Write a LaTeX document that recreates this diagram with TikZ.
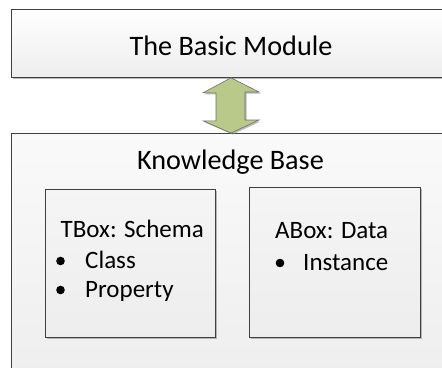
\documentclass[tikz,border=0pt]{standalone}
\usepackage{fontspec}
\setmainfont{Carlito}
\usepackage{tikz}
\usetikzlibrary{positioning, shadows}
\definecolor{boxline}{RGB}{64,64,64}
\definecolor{arrowgreen}{RGB}{184,201,138}
\definecolor{arrowline}{RGB}{110,110,110}
\tikzset{>=latex}

\begin{document}
\begin{tikzpicture}[x=1pt, y=-1pt,
    panel/.style={draw=boxline, line width=0.8pt, inner sep=0pt, anchor=north west, top color=white, bottom color=black!7,
      drop shadow={shadow xshift=1.5pt, shadow yshift=-1.5pt, fill=black!45, opacity=0.6}},
    heading/.style={font=\fontsize{28.2}{32}\selectfont, anchor=base, inner sep=0pt},
    entry/.style={font=\fontsize{25}{28}\selectfont, anchor=base west, inner sep=0pt},
    dot/.style={fill=black}]
  \useasboundingbox (0,0) rectangle (442,367);
  \clip (0,0) rectangle (442,367);
  \fill[white] (0,0) rectangle (442,367);
  % boxes
  \node[panel, minimum width=460pt, minimum height=68pt] (basic) at (11,9) {};
  \node[panel, minimum width=460pt, minimum height=260pt, top color=black!2] (kb) at (11,133) {};
  \node[panel, minimum width=170pt, minimum height=148pt, top color=black!4] (tbox) at (45,189) {};
  \node[panel, minimum width=171pt, minimum height=150pt, top color=black!4] (abox) at (249,187) {};
  % double arrow between the modules
  \coordinate (arrow-axis) at (231,0);
  \coordinate (arrow-top) at (basic.south -| arrow-axis);
  \coordinate (arrow-bottom) at (kb.north -| arrow-axis);
  \draw[draw=arrowline, line width=0.6pt, fill=arrowgreen,
      drop shadow={shadow xshift=1.5pt, shadow yshift=-1.5pt, fill=black!45, opacity=0.6}]
    (arrow-top) -- ++(-28,15) -- ++(13,0) -- ++(0,28) -- ++(-13,0) -- (arrow-bottom)
    -- ++(28,-13) -- ++(-14,0) -- ++(0,-28) -- ++(14,0) -- cycle;
  % labels
  \node[heading] (basic-label) at (231,55) {The Basic Module};
  \node[heading] (kb-label) at (230.5,169) {Knowledge Base};
  \node[entry] (tbox-title) at (60.5,237) {TBox: Schema};
  \node[entry] (tbox-class) at (85,268) {Class};
  \node[entry] (tbox-property) at (85,297) {Property};
  \node[entry] (abox-title) at (275,238) {ABox: Data};
  \node[entry] (abox-instance) at (303,270) {Instance};
  % bullets
  \fill[dot] (tbox-class.base west) ++(-24.5,-7) circle (4.3);
  \fill[dot] (tbox-property.base west) ++(-24.5,-7) circle (4.3);
  \fill[dot] (abox-instance.base west) ++(-23,-7) circle (4.3);
\end{tikzpicture}
\end{document}
